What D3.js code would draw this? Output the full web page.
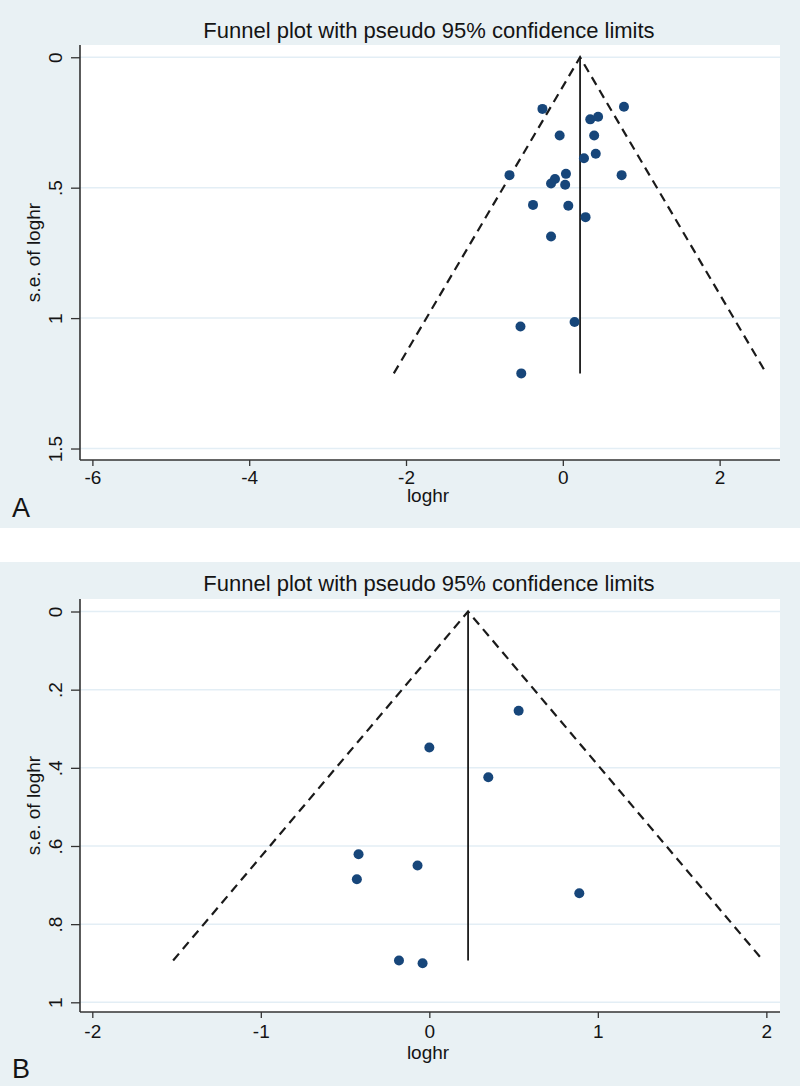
<!DOCTYPE html>
<html>
<head>
<meta charset="utf-8">
<script src="https://cdn.jsdelivr.net/npm/d3@7"></script>
<style>
  html, body { margin: 0; padding: 0; background: #ffffff; }
  svg { display: block; }
  text { font-family: "Liberation Sans", Arial, sans-serif; fill: #141414; }
</style>
</head>
<body>
<svg id="chart" width="800" height="1086"></svg>
<script>
// ---------- DATA ----------
const titleText = "Funnel plot with pseudo 95% confidence limits";
const xLabel = "loghr";
const yLabel = "s.e. of loghr";

// Panel A
const aLoghr = [-0.26, 0.78, 0.35, 0.45, -0.04, 0.40, 0.27, 0.42, -0.68, 0.04, 0.75, -0.10, -0.15, 0.03, -0.38, 0.07, 0.29, -0.15, -0.54, 0.15, -0.53];
const aSe    = [0.198, 0.19, 0.238, 0.228, 0.30, 0.30, 0.387, 0.37, 0.452, 0.447, 0.452, 0.467, 0.484, 0.489, 0.566, 0.569, 0.613, 0.687, 1.032, 1.015, 1.212];
const aPooled = 0.22;
const aMaxSe = 1.212;
const aXTicks = [-6, -4, -2, 0, 2];
const aYTicks = [0, 0.5, 1, 1.5];
const aYTickLabels = ["0", ".5", "1", "1.5"];

// Panel B
const bLoghr = [0.53, 0.0, 0.35, -0.42, -0.43, -0.07, -0.18, -0.04, 0.89];
const bSe    = [0.254, 0.348, 0.424, 0.621, 0.685, 0.65, 0.893, 0.90, 0.721];
const bPooled = 0.23;
const bMaxSe = 0.893;
const bXTicks = [-2, -1, 0, 1, 2];
const bYTicks = [0, 0.2, 0.4, 0.6, 0.8, 1];
const bYTickLabels = ["0", ".2", ".4", ".6", ".8", "1"];

// ---------- DRAW ----------
const svg = d3.select("#chart");
const BG = "#e9f1f4";
const DOT = "#17467a";
const FONT = "Liberation Sans, Arial, sans-serif";

function drawPanel(p) {
  const g = svg.append("g");
  g.append("rect").attr("x", 0).attr("y", p.bgTop).attr("width", 800).attr("height", p.bgBottom - p.bgTop).attr("fill", BG);

  const x = d3.scaleLinear().domain(p.xDomain).range([p.left, p.right]);
  const y = d3.scaleLinear().domain(p.yDomain).range([p.top, p.bottom]);

  g.append("rect").attr("x", p.left).attr("y", p.top).attr("width", p.right - p.left).attr("height", p.bottom - p.top).attr("fill", "#ffffff");

  g.append("g").selectAll("line").data(p.yTicks).join("line")
    .attr("x1", p.left).attr("x2", p.right)
    .attr("y1", d => y(d)).attr("y2", d => y(d))
    .attr("stroke", "#e3eef5").attr("stroke-width", 1.5);

  g.append("text").attr("x", p.titleX).attr("y", p.titleY).attr("text-anchor", "middle")
    .attr("dominant-baseline", "central").attr("font-size", 22).text(titleText);

  // x axis
  const xAxis = d3.axisBottom(x).tickValues(p.xTicks).tickSize(6).tickFormat(d3.format("d"));
  const gx = g.append("g").attr("transform", `translate(0,${p.bottom})`).call(xAxis);
  gx.select(".domain").attr("stroke", "#333").attr("stroke-width", 1.6).attr("d", `M${p.left},0H${p.right}`);
  gx.selectAll(".tick line").attr("stroke", "#333").attr("stroke-width", 1.3);
  gx.selectAll(".tick text").attr("font-size", 19).attr("fill", "#141414")
    .attr("font-family", FONT)
    .attr("y", p.xTickLabelOffset).attr("dy", null).attr("dominant-baseline", "central")
    .text(d => d < 0 ? "-" + Math.abs(d) : String(d));

  // y axis
  const yAxis = d3.axisLeft(y).tickValues(p.yTicks).tickSize(9).tickFormat((d, i) => p.yTickLabels[i]);
  const gy = g.append("g").attr("transform", `translate(${p.left},0)`).call(yAxis);
  gy.select(".domain").attr("stroke", "#333").attr("stroke-width", 1.6).attr("d", `M0,${p.top}V${p.bottom}`);
  gy.selectAll(".tick line").attr("stroke", "#333").attr("stroke-width", 1.3);
  gy.selectAll(".tick text").attr("font-size", 19).attr("fill", "#141414")
    .attr("font-family", FONT)
    .attr("x", null).attr("dy", null)
    .attr("text-anchor", "middle")
    .attr("transform", "translate(-25,0) rotate(-90)")
    .attr("dominant-baseline", "central");

  // axis titles
  g.append("text").attr("x", p.xLabelX).attr("y", p.xLabelY).attr("text-anchor", "middle")
    .attr("dominant-baseline", "central").attr("font-size", 19).text(xLabel);
  g.append("text").attr("transform", `translate(33,${(p.top + p.bottom) / 2}) rotate(-90)`)
    .attr("text-anchor", "middle").attr("dominant-baseline", "central").attr("font-size", 19).text(yLabel);

  // panel letter
  g.append("text").attr("x", 12).attr("y", p.letterY).attr("dominant-baseline", "central")
    .attr("font-size", 27).text(p.letter);

  // funnel: dashed pseudo 95% limits
  const apex = [x(p.pooled), y(0)];
  const lo = [x(p.pooled - 1.96 * p.maxSe), y(p.maxSe)];
  const hi = [x(p.pooled + 1.96 * p.maxSe), y(p.maxSe)];
  g.append("path").attr("d", d3.line()([lo, apex, hi]))
    .attr("fill", "none").attr("stroke", "#1a1a1a").attr("stroke-width", 2.2)
    .attr("stroke-dasharray", "9,6");
  // pooled estimate line
  g.append("line").attr("x1", x(p.pooled)).attr("x2", x(p.pooled))
    .attr("y1", y(0)).attr("y2", y(p.maxSe))
    .attr("stroke", "#1a1a1a").attr("stroke-width", 1.8);

  // points
  g.append("g").selectAll("circle").data(p.loghr.map((v, i) => [v, p.se[i]])).join("circle")
    .attr("cx", d => x(d[0])).attr("cy", d => y(d[1])).attr("r", 5).attr("fill", DOT);
}

drawPanel({
  bgTop: 0, bgBottom: 528,
  left: 80, right: 780, top: 45, bottom: 460,
  xDomain: [-6.158, 2.770], yDomain: [-0.047, 1.544],
  xTicks: aXTicks, yTicks: aYTicks, yTickLabels: aYTickLabels, xTickLabelOffset: 17,
  titleX: 429, titleY: 30, xLabelX: 428, xLabelY: 495, letter: "A", letterY: 508,
  pooled: aPooled, maxSe: aMaxSe, loghr: aLoghr, se: aSe
});

drawPanel({
  bgTop: 562, bgBottom: 1086,
  left: 80, right: 780, top: 599, bottom: 1012,
  xDomain: [-2.073, 2.081], yDomain: [-0.032, 1.0248],
  xTicks: bXTicks, yTicks: bYTicks, yTickLabels: bYTickLabels, xTickLabelOffset: 19,
  titleX: 429, titleY: 583, xLabelX: 428, xLabelY: 1052, letter: "B", letterY: 1069,
  pooled: bPooled, maxSe: bMaxSe, loghr: bLoghr, se: bSe
});
</script>
</body>
</html>
